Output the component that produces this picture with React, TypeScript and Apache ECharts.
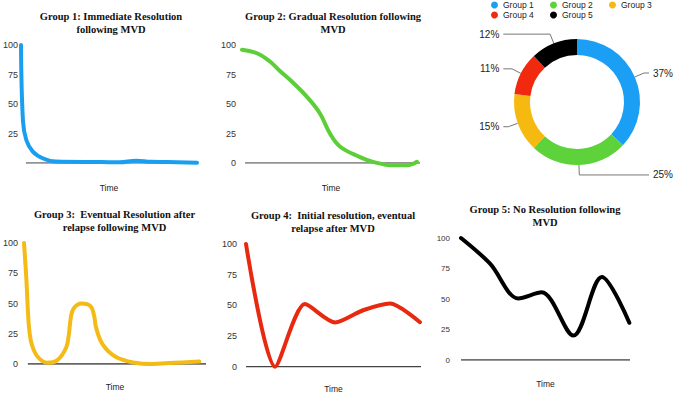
import React, { useEffect, useRef } from 'react';
import * as echarts from 'echarts';

// ---- Data ----
const titles = [
  'Group 1: Immediate Resolution\nfollowing MVD',
  'Group 2: Gradual Resolution following\nMVD',
  'Group 3:  Eventual Resolution after\nrelapse following MVD',
  'Group 4:  Initial resolution, eventual\nrelapse after MVD',
  'Group 5: No Resolution following\nMVD',
];

const time1 = [0, 1.1, 3.0, 6.7, 12.3, 19.6, 45.8, 56, 65.4, 73.7, 83.2, 100];
const values1 = [100, 36, 19.5, 9.6, 4, 1.2, 0.8, 0.6, 2, 1, 0.8, 0.3];

const time2 = [0, 8.4, 15.7, 21.3, 28.7, 36.5, 43.8, 49.4, 55, 66.3, 73.6, 84.8, 92.7, 98.3];
const values2 = [96, 93, 86, 78, 68, 56, 42, 25, 14, 5, 1, -2, -2, 1];

const time3 = [0, 1.3, 2.1, 2.9, 4.3, 7.5, 12.8, 18.2, 23, 24.6, 25.7, 27.3, 31.6, 36.4, 38.5, 39.6, 43.3, 50.3, 61, 70, 82.4, 96.3];
const values3 = [100, 70, 45, 28, 16, 6, 1, 3, 13, 24, 38, 46, 50, 48, 40, 30, 16, 6, 1, 0, 1, 2];

const time4 = [0, 16.6, 33.7, 50.9, 66.9, 82.3, 99.4];
const values4 = [100, 0, 51, 36, 46, 51.5, 36.3];

const time5 = [0, 17.2, 33.9, 47.7, 66.5, 83.3, 99.6];
const values5 = [100, 79, 50.5, 55.5, 20, 68, 30.5];

const yTicks = [0, 25, 50, 75, 100];

const pieNames = ['Group 1', 'Group 2', 'Group 3', 'Group 4', 'Group 5'];
const pieValues = [37, 25, 15, 11, 12];

const lineColors = ['#1a9ff0', '#5ccf38', '#f3bb14', '#e9290f', '#000000'];
const pieColors = ['#1a9ff5', '#5ed23a', '#f6b90f', '#f0290f', '#000000'];
const axisColors = ['#6e6e6e', '#6e6e6e', '#333333', '#444444', '#444444'];
const axisStart = [2.8, 1.7, 2.1, 0, 0];
const smoothness = [0.4, 0.4, 0.4, 0.25, 0.32];

const SANS = 'Liberation Sans, Arial, Helvetica, sans-serif';
const SERIF = 'Liberation Serif, Times New Roman, serif';

// layout (pixels)
const grids = [
  { left: 18, top: 45, width: 179, height: 118 },
  { left: 242, top: 45, width: 178, height: 118 },
  { left: 19, top: 243, width: 187, height: 121 },
  { left: 246, top: 244, width: 175, height: 123 },
  { left: 461, top: 238, width: 169, height: 122 },
];
const titlePos = [
  { left: 111, top: 9.8 },
  { left: 333, top: 9.5 },
  { left: 114.5, top: 207.8 },
  { left: 333, top: 208.5 },
  { left: 545, top: 202.5 },
];
const labelMargins = [3, 6, 6, 9, 11];
const labelSizes = [9, 9, 9, 9, 8];
const nameGaps = [20, 20, 18.7, 17.3, 19.3];

export default function App() {
  const ref = useRef<HTMLDivElement>(null);

  useEffect(() => {
    document.body.style.margin = '0';
    if (!ref.current) return;
    const chart = echarts.init(ref.current, null, { renderer: 'svg' });

    const times = [time1, time2, time3, time4, time5];
    const vals = [values1, values2, values3, values4, values5];

    const series: any[] = [];
    for (let i = 0; i < 5; i++) {
      series.push({
        type: 'line',
        name: 'axis' + (i + 1),
        xAxisIndex: i,
        yAxisIndex: i,
        data: [[axisStart[i], yTicks[0]], [100, yTicks[0]]],
        symbol: 'none',
        silent: true,
        z: 1,
        lineStyle: { color: axisColors[i], width: 1.5 },
      });
      series.push({
        type: 'line',
        name: 'curve' + (i + 1),
        xAxisIndex: i,
        yAxisIndex: i,
        data: times[i].map((t, k) => [t, vals[i][k]]),
        smooth: smoothness[i],
        symbol: 'none',
        clip: false,
        z: 2,
        lineStyle: { color: lineColors[i], width: 4, cap: 'round', join: 'round' },
      });
    }

    series.push({
      type: 'pie',
      name: 'Distribution',
      left: 0,
      top: 0,
      width: 760,
      height: 394,
      center: [577, 102],
      radius: [47, 63],
      startAngle: 90,
      clockwise: true,
      avoidLabelOverlap: true,
      data: pieNames.map((n, k) => ({ name: n, value: pieValues[k], itemStyle: { color: pieColors[k] } })),
      label: {
        show: true,
        formatter: (p: any) => p.value + '%',
        fontSize: 10,
        fontFamily: SANS,
        color: '#222',
        alignTo: 'labelLine',
        edgeDistance: 0,
        distanceToLabelLine: 4,
      },
      labelLine: { show: true, length: 10, length2: 5, lineStyle: { color: '#777', width: 1 } },
      emphasis: { disabled: true },
    });

    const legendCommon = {
      orient: 'vertical',
      top: 0,
      padding: 0,
      itemGap: 0,
      itemWidth: 7,
      itemHeight: 7,
      icon: 'circle',
      textStyle: { fontSize: 8.5, lineHeight: 10, color: '#222', fontFamily: SANS },
      selectedMode: false,
    };

    const option: any = {
      animation: false,
      backgroundColor: '#ffffff',
      title: titles.map((t, i) => ({
        text: t,
        left: titlePos[i].left,
        top: titlePos[i].top,
        textAlign: 'center',
        padding: 0,
        textStyle: { fontFamily: SERIF, fontWeight: 'bold', fontSize: 10.5, lineHeight: 13, color: '#111' },
      })),
      legend: [
        { ...legendCommon, left: 491, data: [pieNames[0], pieNames[3]] },
        { ...legendCommon, left: 550, data: [pieNames[1], pieNames[4]] },
        { ...legendCommon, left: 609, data: [pieNames[2]] },
      ],
      grid: grids.map((g) => ({ ...g, containLabel: false })),
      xAxis: grids.map((_, i) => ({
        gridIndex: i,
        type: 'value',
        min: 0,
        max: 100,
        axisLine: { show: false },
        axisTick: { show: false },
        axisLabel: { show: false },
        splitLine: { show: false },
        name: 'Time',
        nameLocation: 'middle',
        nameGap: nameGaps[i],
        nameTextStyle: { fontSize: 8.5, color: '#222', fontFamily: SANS },
      })),
      yAxis: grids.map((_, i) => ({
        gridIndex: i,
        type: 'value',
        min: yTicks[0],
        max: yTicks[yTicks.length - 1],
        interval: 25,
        axisLine: { show: false },
        axisTick: { show: false },
        splitLine: { show: false },
        axisLabel: {
          showMinLabel: i !== 0,
          fontSize: labelSizes[i],
          margin: labelMargins[i],
          color: '#333',
          fontFamily: SANS,
        },
      })),
      series,
    };

    chart.setOption(option);
    return () => chart.dispose();
  }, []);

  return <div ref={ref} style={{ width: 676, height: 394 }} />;
}
